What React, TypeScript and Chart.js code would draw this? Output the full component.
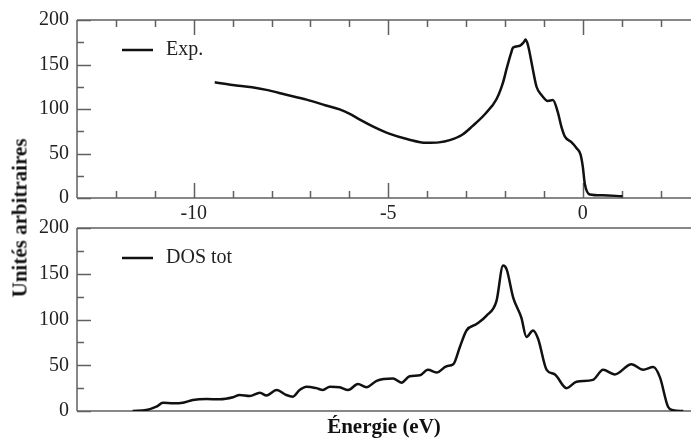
import React, { useEffect, useRef } from "react";
import { Chart, registerables } from "chart.js";

Chart.register(...registerables);

// ---- data ----
const expEnergy = [-9.46, -9.0, -8.5, -8.13, -7.62, -7.1, -6.6, -6.25, -5.99, -5.73, -5.4, -4.96, -4.5, -4.02, -3.7, -3.42, -3.1, -2.83, -2.5, -2.22, -2.05, -1.96, -1.85, -1.79, -1.62, -1.52, -1.47, -1.4, -1.3, -1.19, -1.05, -0.9, -0.77, -0.64, -0.55, -0.46, -0.3, -0.16, -0.06, 0.0, 0.05, 0.18, 0.5, 1.02];
const expValues = [130, 127, 124.5, 121.5, 116, 110.5, 104, 99.5, 94.5, 88, 80.5, 72, 66, 62, 62.5, 65, 71, 81, 95, 111, 130, 145, 162, 169, 171, 175, 178, 170, 148, 125, 115, 109, 110, 96, 80, 69, 63, 56, 49, 35, 16, 4, 3, 2];

const dosEnergy = [-11.57, -11.22, -10.96, -10.79, -10.53, -10.28, -10.02, -9.67, -9.33, -8.99, -8.82, -8.56, -8.3, -8.13, -7.87, -7.62, -7.45, -7.28, -7.1, -6.85, -6.68, -6.5, -6.25, -6.03, -5.78, -5.56, -5.3, -4.88, -4.66, -4.45, -4.19, -3.98, -3.76, -3.5, -3.33, -3.16, -2.99, -2.73, -2.48, -2.22, -2.05, -1.96, -1.79, -1.58, -1.45, -1.28, -1.15, -0.93, -0.72, -0.42, -0.16, 0.26, 0.52, 0.82, 1.25, 1.55, 1.81, 1.98, 2.19, 2.32, 2.58];
const dosValues = [0, 1, 4.7, 9, 8.4, 9, 12, 13, 12.8, 15, 17.5, 16.4, 20, 17, 23, 17.5, 15.7, 23, 26.6, 25, 23, 26.6, 26, 23, 29.5, 26, 33, 35.5, 31, 38, 39, 45, 42, 49, 51, 70, 88, 95, 104, 120, 159, 155, 124, 102, 81, 88, 79, 45, 40, 25, 32, 34, 45, 40, 51, 45, 48, 37, 4.7, 1, 0];

const xMajorTicks = [-10, -5, 0];
const xMinorTicks = [-12, -11, -9, -8, -7, -6, -4, -3, -2, -1, 1, 2];
const yMajorTicks = [0, 50, 100, 150, 200];
const yMinorTicks = [25, 75, 125, 175];

const X_MIN = -13;
const X_MAX = 2.78;

const SERIF = "'Liberation Serif', 'Times New Roman', serif";
const AXIS_COLOR = "#606060";
const LINE_COLOR = "#111111";

function framePlugin(legendText: string, withXTicks: boolean) {
  return {
    id: "frame",
    beforeDatasetsDraw(chart: any) {
      const { ctx, chartArea: a, scales } = chart;
      const xs = scales.x;
      const ys = scales.y;
      ctx.save();
      ctx.strokeStyle = AXIS_COLOR;
      ctx.lineWidth = 1.5;
      ctx.beginPath();
      ctx.moveTo(a.left, a.top);
      ctx.lineTo(a.left, a.bottom);
      ctx.moveTo(a.left, a.top);
      ctx.lineTo(a.right, a.top);
      ctx.moveTo(a.left, a.bottom);
      ctx.lineTo(a.right, a.bottom);
      yMajorTicks.forEach((v) => {
        const py = Math.round(ys.getPixelForValue(v)) + 0.5;
        ctx.moveTo(a.left, py);
        ctx.lineTo(a.left + 14, py);
      });
      yMinorTicks.forEach((v) => {
        const py = Math.round(ys.getPixelForValue(v)) + 0.5;
        ctx.moveTo(a.left, py);
        ctx.lineTo(a.left + 7, py);
      });
      if (withXTicks) {
        const draw = (v: number, len: number) => {
          const px = Math.round(xs.getPixelForValue(v)) + 0.5;
          ctx.moveTo(px, a.top);
          ctx.lineTo(px, a.top + len);
          ctx.moveTo(px, a.bottom);
          ctx.lineTo(px, a.bottom - len);
        };
        xMajorTicks.forEach((v) => draw(v, 15));
        xMinorTicks.forEach((v) => draw(v, 7));
      }
      ctx.stroke();
      // legend
      const ly = a.top + 30;
      ctx.strokeStyle = LINE_COLOR;
      ctx.lineWidth = 2.5;
      ctx.beginPath();
      ctx.moveTo(a.left + 45, ly);
      ctx.lineTo(a.left + 76, ly);
      ctx.stroke();
      ctx.fillStyle = "#222";
      ctx.font = `20px ${SERIF}`;
      ctx.textBaseline = "middle";
      ctx.textAlign = "left";
      ctx.fillText(legendText, a.left + 89, ly);
      ctx.restore();
    },
  };
}

function makeConfig(
  label: string,
  xs: number[],
  vs: number[],
  top: boolean
): any {
  return {
    type: "line",
    data: {
      datasets: [
        {
          label,
          data: xs.map((x, i) => ({ x, y: vs[i] })),
          borderColor: LINE_COLOR,
          borderWidth: 2.5,
          pointRadius: 0,
          fill: false,
          cubicInterpolationMode: "monotone",
        },
      ],
    },
    options: {
      animation: false,
      responsive: false,
      devicePixelRatio: 1,
      layout: { padding: { top: top ? 15 : 23, left: 0, right: 0, bottom: 0 } },
      plugins: {
        legend: { display: false },
        tooltip: { enabled: false },
      },
      scales: {
        x: {
          type: "linear",
          min: X_MIN,
          max: X_MAX,
          grid: { display: false, drawTicks: false },
          border: { display: false },
          afterBuildTicks: (s: any) => {
            s.ticks = xMajorTicks.map((v) => ({ value: v }));
          },
          afterFit: (s: any) => {
            s.height = top ? 24 : 30;
          },
          ticks: {
            display: top,
            padding: 4,
            color: "#222",
            font: { family: SERIF, size: 20 },
            callback: (v: number) => String(v),
          },
          title: {
            display: !top,
            text: "Énergie (eV)",
            color: "#111",
            font: { family: SERIF, size: 21, weight: "bold" },
            padding: { top: 0, bottom: 1 },
          },
        },
        y: {
          min: 0,
          max: 200,
          grid: { display: false, drawTicks: false },
          border: { display: false },
          afterBuildTicks: (s: any) => {
            s.ticks = yMajorTicks.map((v) => ({ value: v }));
          },
          afterFit: (s: any) => {
            s.width = 77;
          },
          ticks: {
            padding: 8,
            color: "#222",
            font: { family: SERIF, size: 20 },
          },
        },
      },
    },
    plugins: [framePlugin(label, top)],
  };
}

export default function App() {
  const topRef = useRef<HTMLCanvasElement>(null);
  const botRef = useRef<HTMLCanvasElement>(null);

  useEffect(() => {
    const c1 = new Chart(topRef.current as HTMLCanvasElement, makeConfig("Exp.", expEnergy, expValues, true));
    const c2 = new Chart(botRef.current as HTMLCanvasElement, makeConfig("DOS tot", dosEnergy, dosValues, false));
    return () => {
      c1.destroy();
      c2.destroy();
    };
  }, []);

  return (
    <div
      style={{
        position: "fixed",
        left: 0,
        top: 0,
        width: 691,
        height: 441,
        background: "#fff",
        overflow: "hidden",
      }}
    >
      <canvas
        ref={topRef}
        width={691}
        height={222}
        style={{ position: "absolute", left: 0, top: 0, width: 691, height: 222 }}
      />
      <canvas
        ref={botRef}
        width={691}
        height={236}
        style={{ position: "absolute", left: 0, top: 205, width: 691, height: 236 }}
      />
      <div
        style={{
          position: "absolute",
          left: 20,
          top: 218,
          transform: "translate(-50%, -50%) rotate(-90deg)",
          whiteSpace: "nowrap",
          fontFamily: SERIF,
          fontWeight: "bold",
          fontSize: 21,
          color: "#111",
        }}
      >
        Unités arbitraires
      </div>
    </div>
  );
}
